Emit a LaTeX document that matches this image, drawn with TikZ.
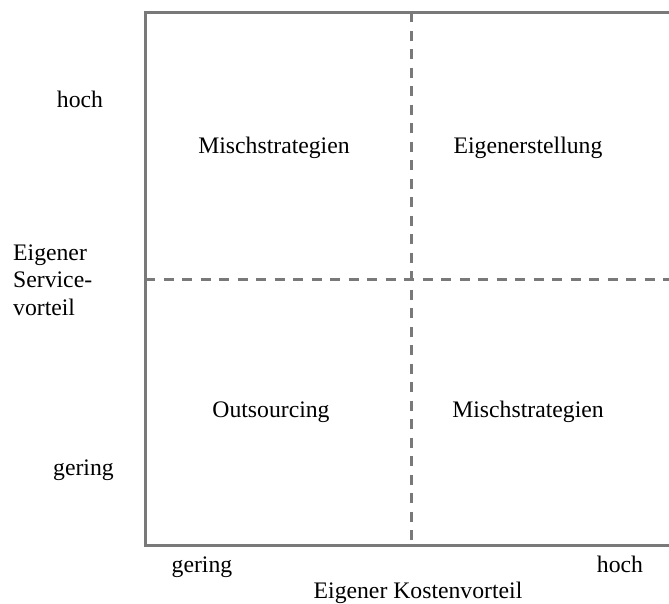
\documentclass[tikz,border=0pt]{standalone}
\usepackage{fontspec}
\setmainfont{Liberation Serif}
\usetikzlibrary{positioning}

\begin{document}
\begin{tikzpicture}[x=1pt, y=-1pt,
frame/.style={draw=gray!95!black, line width=3pt}, divider/.style={draw=gray!95!black, line width=3pt, dash pattern=on 10pt off 8.5pt}, lbl/.style={inner sep=0pt, anchor=base, font=\fontsize{23.7}{27.5}\selectfont} ]
\useasboundingbox (0,0) rectangle (669,603);
\coordinate (tl) at (145,12);
\coordinate (bl) at (145,545);
\coordinate (tr) at (669,12);
\coordinate (br) at (669,545);
\coordinate (midtop) at (411,12);
\coordinate (midbot) at (411,545);
\coordinate (midleft) at (145,279);
\coordinate (midright) at (669,279);
\draw[frame] (tr) -- (tl) -- (bl) -- (br);
\draw[divider] (midtop) -- (midbot);
\draw[divider] (midleft) -- (midright);
\node[lbl] (mischtl) at (274,153) {Mischstrategien};
\node[lbl] (eigen) at (528,153) {Eigenerstellung};
\node[lbl] (outs) at (271,417) {Outsourcing};
\node[lbl] (mischbr) at (528,417) {Mischstrategien};
\node[lbl] (yhigh) at (80,107) {hoch};
\node[lbl] (ylow) at (83.5,475) {gering};
\node[lbl, anchor=base west, align=left] (ytitle) at (13,315) {Eigener\\Service-\\vorteil};
\node[lbl] (xlow) at (202,572) {gering};
\node[lbl] (xhigh) at (620,572) {hoch};
\node[lbl] (xtitle) at (418,598) {Eigener Kostenvorteil};
\end{tikzpicture}
\end{document}
